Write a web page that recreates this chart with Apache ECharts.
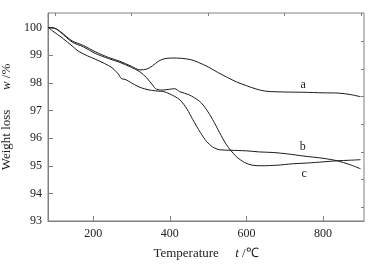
<!DOCTYPE html>
<html>
<head>
<meta charset="utf-8">
<script src="https://cdn.jsdelivr.net/npm/echarts@6/dist/echarts.min.js"></script>
<style>
  html, body { margin: 0; padding: 0; background: #fff; }
  #main { width: 374px; height: 267px; }
</style>
</head>
<body>
<div id="main"></div>
<script>
// temperatures (°C) and weight (%)
var tempA = [83, 100, 115, 145, 175, 205, 240, 270, 300, 322, 340, 355, 370, 385, 405, 430, 455, 475, 500, 525, 550, 575, 600, 625, 650, 700, 750, 800, 840, 870, 898];
var wA    = [100.0, 99.98, 99.85, 99.52, 99.35, 99.13, 98.92, 98.78, 98.6, 98.47, 98.5, 98.62, 98.78, 98.87, 98.9, 98.89, 98.84, 98.74, 98.58, 98.38, 98.2, 98.03, 97.9, 97.78, 97.7, 97.67, 97.66, 97.64, 97.63, 97.58, 97.5];

var tempB = [83, 95, 119, 148, 162, 185, 205, 230, 249, 265, 274, 283, 300, 317, 335, 352, 370, 382, 400, 426, 445, 460, 480, 496, 512, 530, 560, 600, 634, 670, 707, 750, 800, 837, 870, 898];
var wB    = [100.0, 99.87, 99.63, 99.3, 99.14, 98.98, 98.86, 98.7, 98.55, 98.33, 98.15, 98.13, 98.0, 97.87, 97.78, 97.73, 97.7, 97.69, 97.6, 97.39, 97.05, 96.67, 96.2, 95.88, 95.68, 95.58, 95.56, 95.54, 95.5, 95.48, 95.43, 95.35, 95.27, 95.18, 95.04, 94.89];

var tempC = [83, 100, 115, 145, 175, 205, 240, 270, 300, 322, 340, 355, 365, 380, 400, 413, 426, 450, 478, 495, 512, 530, 548, 573, 595, 615, 640, 680, 720, 760, 800, 837, 870, 898];
var wC    = [100.0, 99.97, 99.83, 99.48, 99.3, 99.07, 98.88, 98.74, 98.56, 98.4, 98.18, 97.92, 97.77, 97.74, 97.77, 97.79, 97.68, 97.57, 97.33, 97.05, 96.67, 96.2, 95.76, 95.34, 95.12, 95.02, 95.0, 95.02, 95.07, 95.1, 95.14, 95.18, 95.2, 95.22];

var curveNames = ['a', 'b', 'c'];
var labelAt = [[748, 97.93], [747, 95.68], [751, 94.72]];

var xMajor = [200, 400, 600, 800];
var xMinor = [100, 300, 500, 700, 900];
var yMajor = [93, 94, 95, 96, 97, 98, 99, 100];
var yMinor = [93.5, 94.5, 95.5, 96.5, 97.5, 98.5, 99.5];

function zip(xs, ys) {
  var out = [];
  for (var i = 0; i < xs.length; i++) out.push([xs[i], ys[i]]);
  return out;
}

var font = 'Liberation Serif';
var axisGray = '#808080';

var chart = echarts.init(document.getElementById('main'), null, { renderer: 'canvas' });

var xBase = { type: 'value', min: 82, max: 907, gridIndex: 0, splitLine: { show: false } };
var yBase = { type: 'value', min: 93, max: 100.53, gridIndex: 0, splitLine: { show: false } };

var series = [];
var data = [zip(tempA, wA), zip(tempB, wB), zip(tempC, wC)];
for (var i = 0; i < 3; i++) {
  series.push({
    name: curveNames[i],
    type: 'line',
    data: data[i],
    showSymbol: false,
    smooth: 0.3,
    lineStyle: { color: '#1c1c1c', width: 1 },
    markPoint: {
      symbol: 'circle',
      symbolSize: 0,
      data: [{ coord: labelAt[i] }],
      label: {
        show: true,
        position: 'inside',
        formatter: curveNames[i],
        fontFamily: font,
        fontSize: 12,
        color: '#222'
      }
    }
  });
}

var option = {
  animation: false,
  backgroundColor: '#fff',
  grid: {
    left: 48, right: 10, top: 13, bottom: 46,
    show: true, borderColor: axisGray, borderWidth: 1,
    containLabel: false, outerBoundsMode: 'none'
  },
  xAxis: [
    Object.assign({}, xBase, {
      name: 'Temperature     {i|t} /\u2103',
      nameLocation: 'middle',
      nameGap: 26,
      nameTextStyle: {
        fontFamily: font, fontSize: 13, color: '#222',
        rich: { i: { fontFamily: font, fontStyle: 'italic', fontSize: 13, color: '#222' } }
      },
      axisLine: { show: true, lineStyle: { color: axisGray, width: 1 } },
      axisTick: { show: true, inside: true, length: 5, customValues: xMajor, lineStyle: { color: axisGray } },
      axisLabel: { show: true, customValues: xMajor, margin: 7, fontFamily: font, fontSize: 12, color: '#222' }
    }),
    Object.assign({}, xBase, {
      axisLine: { show: false },
      axisTick: { show: true, inside: true, length: 3, customValues: xMinor, lineStyle: { color: axisGray } },
      axisLabel: { show: false }
    })
  ],
  yAxis: [
    Object.assign({}, yBase, {
      name: 'Weight loss      {i|w} /%',
      nameLocation: 'middle',
      nameGap: 29,
      nameTextStyle: {
        fontFamily: font, fontSize: 13, color: '#222',
        rich: { i: { fontFamily: font, fontStyle: 'italic', fontSize: 13, color: '#222' } }
      },
      axisLine: { show: true, lineStyle: { color: axisGray, width: 1 } },
      axisTick: { show: true, inside: true, length: 5, customValues: yMajor, lineStyle: { color: axisGray } },
      axisLabel: { show: true, customValues: yMajor, margin: 6, fontFamily: font, fontSize: 12, color: '#222' }
    }),
    Object.assign({}, yBase, {
      axisLine: { show: false },
      axisTick: { show: true, inside: true, length: 3, customValues: yMinor, lineStyle: { color: axisGray } },
      axisLabel: { show: false }
    })
  ],
  series: series
};

chart.setOption(option);
</script>
</body>
</html>
